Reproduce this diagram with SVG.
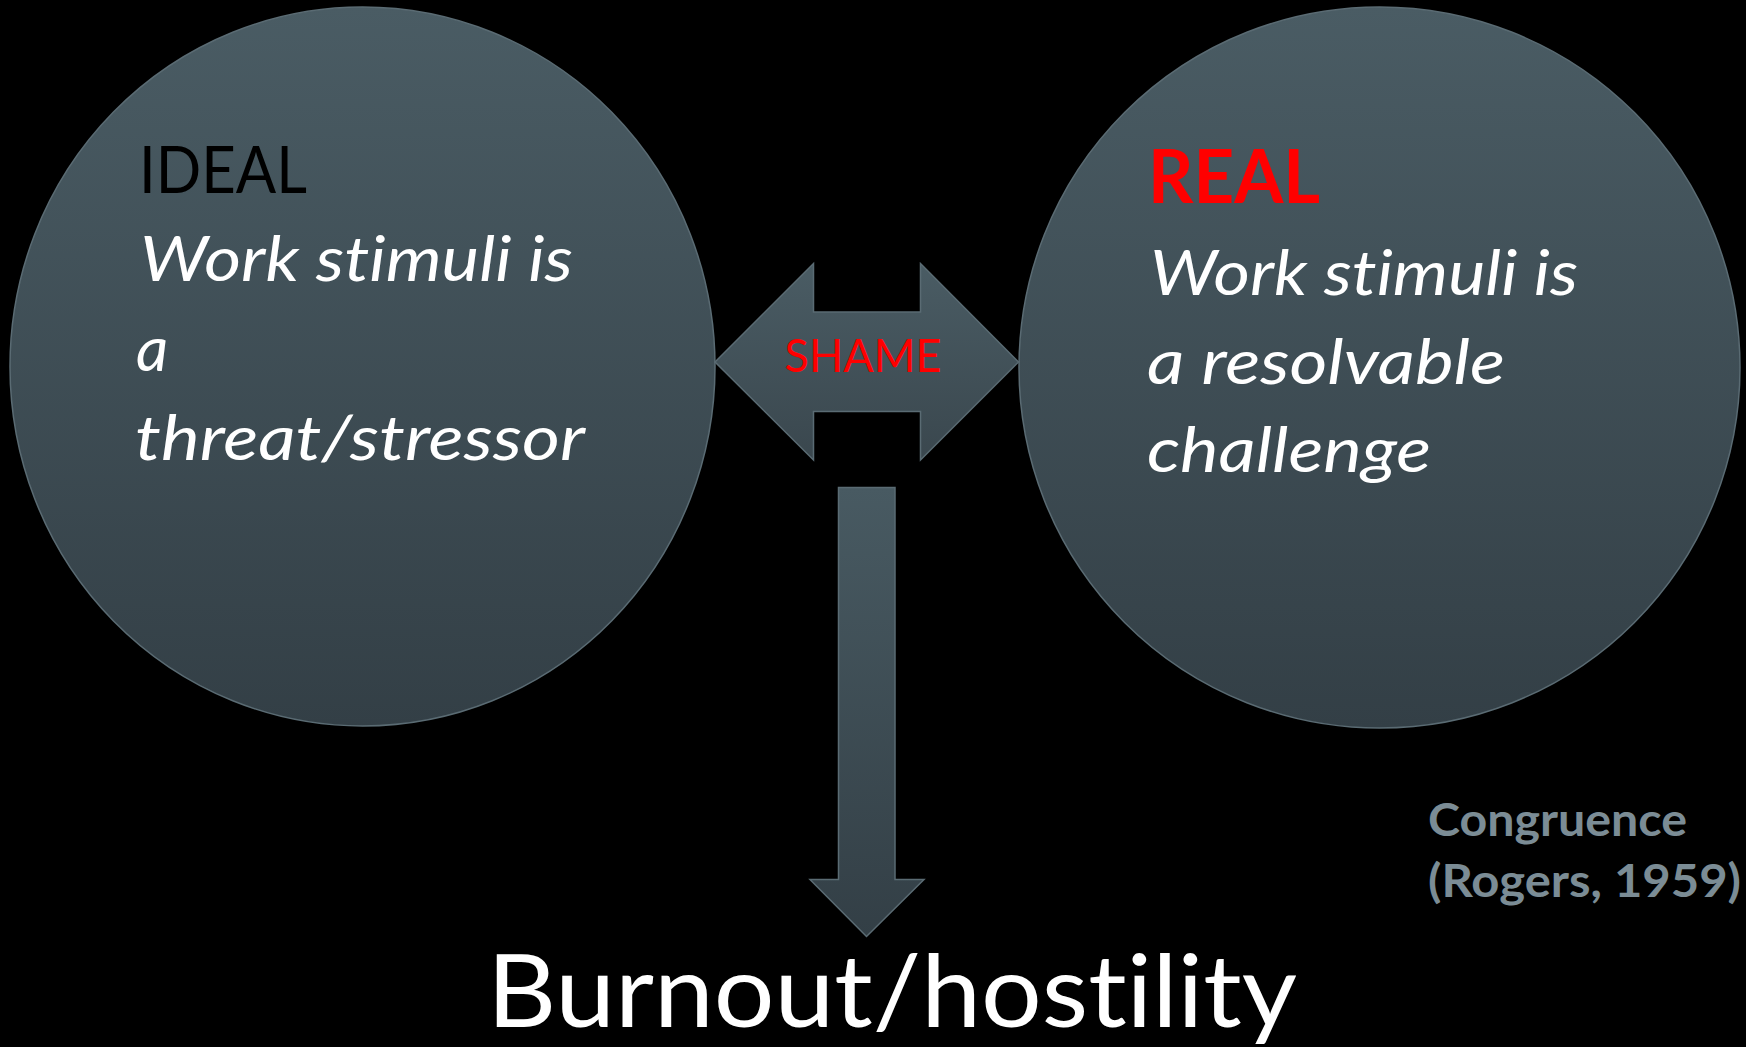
<svg xmlns="http://www.w3.org/2000/svg" width="1746" height="1047" viewBox="0 0 1746 1047">
  <defs>
    <linearGradient id="gShape" x1="0" y1="0" x2="0" y2="1">
      <stop offset="0" stop-color="#4a5c64"/>
      <stop offset="1" stop-color="#333f46"/>
    </linearGradient>
    <linearGradient id="gArrow" x1="0" y1="0" x2="0" y2="1">
      <stop offset="0" stop-color="#4a5c64"/>
      <stop offset="1" stop-color="#3a474e"/>
    </linearGradient>
    <linearGradient id="gDown" x1="0" y1="0" x2="0" y2="1">
      <stop offset="0" stop-color="#485a62"/>
      <stop offset="1" stop-color="#333f46"/>
    </linearGradient>
    <style>
      .shape { stroke: #5a6b73; stroke-width: 1.5; }
      .txt { font-family: Lato, "Liberation Sans", sans-serif; font-variant-ligatures: none; font-feature-settings: "liga" 0, "clig" 0, "dlig" 0; }
      .body { font-size: 63px; font-style: italic; fill: #ffffff; }
      .cite { font-size: 45px; font-weight: bold; fill: #7b8c95; }
    </style>
  </defs>
  <rect x="0" y="0" width="1746" height="1047" fill="#000000"/>

  <g id="ideal">
    <ellipse class="shape" cx="362.5" cy="366.5" rx="352.5" ry="359.5" fill="url(#gShape)"/>
    <text class="txt" x="139" y="193" font-size="66" fill="#000000" textLength="168" lengthAdjust="spacingAndGlyphs">IDEAL</text>
    <text class="txt body" x="140" y="281" textLength="433" lengthAdjust="spacingAndGlyphs">Work stimuli is</text>
    <text class="txt body" x="136" y="371">a</text>
    <text class="txt body" x="135" y="460" textLength="450" lengthAdjust="spacingAndGlyphs">threat/stressor</text>
  </g>

  <g id="real">
    <ellipse class="shape" cx="1379.5" cy="367.5" rx="360.5" ry="360.5" fill="url(#gShape)"/>
    <text class="txt" x="1148" y="203" font-size="74" font-weight="bold" fill="#ff0000" textLength="172" lengthAdjust="spacingAndGlyphs">REAL</text>
    <text class="txt body" x="1150" y="295" textLength="428" lengthAdjust="spacingAndGlyphs">Work stimuli is</text>
    <text class="txt body" x="1147" y="383.5" textLength="358" lengthAdjust="spacingAndGlyphs">a resolvable</text>
    <text class="txt body" x="1147" y="472" textLength="284" lengthAdjust="spacingAndGlyphs">challenge</text>
  </g>

  <g id="connectors">
    <g id="shame-arrow">
      <path class="shape" fill="url(#gArrow)" d="M715,362 L813.5,263.5 L813.5,312 L920.5,312 L920.5,263.5 L1018.5,362 L920.5,460 L920.5,411.5 L813.5,411.5 L813.5,460 Z"/>
      <text class="txt" x="863" y="372" font-size="46" fill="#ff0000" text-anchor="middle" textLength="157" lengthAdjust="spacingAndGlyphs">SHAME</text>
    </g>
    <g id="down-arrow">
      <path class="shape" fill="url(#gDown)" d="M838.5,487.5 L895,487.5 L895,879.5 L924,879.5 L866.5,936.5 L810,879.5 L838.5,879.5 Z"/>
    </g>
  </g>

  <g id="burnout">
    <text class="txt" x="487" y="1027" font-size="100" fill="#ffffff" textLength="810" lengthAdjust="spacingAndGlyphs">Burnout/hostility</text>
  </g>

  <g id="citation">
    <text class="txt cite" x="1428" y="836" textLength="259" lengthAdjust="spacingAndGlyphs">Congruence</text>
    <text class="txt cite" x="1428" y="897" textLength="313" lengthAdjust="spacingAndGlyphs">(Rogers, 1959)</text>
  </g>
</svg>
